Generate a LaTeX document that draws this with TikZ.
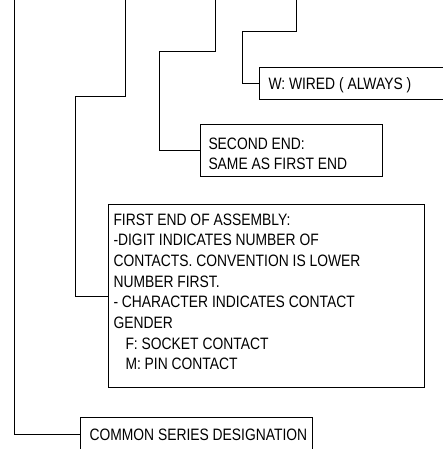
\documentclass[tikz,border=0pt]{standalone}
\usepackage{fontspec}
\newfontfamily\notefont[FakeStretch=0.84]{Liberation Sans}
\usepackage{tikz}
\usetikzlibrary{positioning}

\begin{document}
\begin{tikzpicture}[x=1pt, y=-1pt, line width=1pt,
    notebox/.style={draw, anchor=north west, inner sep=0pt},
    notetext/.style={anchor=north west, inner sep=0pt, align=left,
        font=\notefont\fontsize{16.5}{20.7}\selectfont}]
    \clip (0,0) rectangle (443,449);

    % boxes
    \node[notebox, minimum width=200, minimum height=32] (wired box) at (259,67) {};
    \node[notebox, minimum width=182, minimum height=52] (second box) at (200,124) {};
    \node[notebox, minimum width=316, minimum height=183] (first box) at (108,204) {};
    \node[notebox, minimum width=232, minimum height=34] (common box) at (80,417) {};

    % texts
    \node[notetext] (wired text) at (268,77) {W: WIRED ( ALWAYS )};
    \node[notetext] (second text) at (208,137) {SECOND END:\\SAME AS FIRST END};
    \node[notetext] (first text) at (113,213) {FIRST END OF ASSEMBLY:\\
        -DIGIT INDICATES NUMBER OF\\
        CONTACTS. CONVENTION IS LOWER\\
        NUMBER FIRST.\\
        - CHARACTER INDICATES CONTACT\\
        GENDER\\
        \hspace*{12pt}F: SOCKET CONTACT\\
        \hspace*{12pt}M: PIN CONTACT};
    \node[notetext] (common text) at (89,428) {COMMON SERIES DESIGNATION};

    % leaders
    \coordinate (wired top) at (296,0);
    \coordinate (wired bend) at (242,32);
    \coordinate (second top) at (215,0);
    \coordinate (second bend) at (159,52);
    \coordinate (first top) at (125,0);
    \coordinate (first bend) at (75,97);
    \coordinate (common top) at (14,0);

    \draw (wired top) |- (wired bend) |- (wired box.west);
    \draw (second top) |- (second bend) |- (second box.west);
    \draw (first top) |- (first bend) |- (first box.west);
    \draw (common top) |- (common box.west);
\end{tikzpicture}
\end{document}
